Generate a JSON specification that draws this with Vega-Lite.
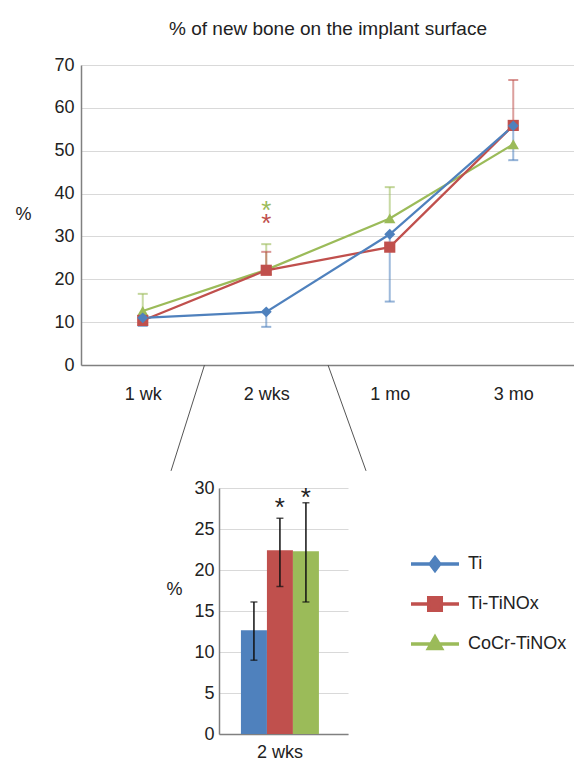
{
  "$schema": "https://vega.github.io/schema/vega-lite/v6.json",
  "background": "white",
  "padding": {"left": 14, "top": 20, "right": 0, "bottom": 0},
  "config": {
    "font": "Liberation Sans",
    "view": {"stroke": null},
    "axis": {
      "labelFont": "Liberation Sans", "labelFontSize": 18, "labelColor": "#222222",
      "titleFont": "Liberation Sans", "titleFontSize": 18, "titleFontWeight": "normal", "titleColor": "#222222",
      "ticks": false, "domainColor": "#808080", "domainWidth": 1.5,
      "gridColor": "#d9d9d9", "gridWidth": 1.2
    },
    "legend": {"labelFont": "Liberation Sans"}
  },
  "datasets": {
    "series": [
      {"series": "CoCr-TiNOx", "t": 1, "value": 12.6, "err": 16.6},
      {"series": "CoCr-TiNOx", "t": 2, "value": 22.2, "err": 28.2},
      {"series": "CoCr-TiNOx", "t": 3, "value": 34.2, "err": 41.5},
      {"series": "CoCr-TiNOx", "t": 4, "value": 51.5, "err": null},
      {"series": "Ti-TiNOx", "t": 1, "value": 10.4, "err": null},
      {"series": "Ti-TiNOx", "t": 2, "value": 22.1, "err": 26.4},
      {"series": "Ti-TiNOx", "t": 3, "value": 27.5, "err": null},
      {"series": "Ti-TiNOx", "t": 4, "value": 55.9, "err": 66.5},
      {"series": "Ti", "t": 1, "value": 11.0, "err": 9.1},
      {"series": "Ti", "t": 2, "value": 12.4, "err": 8.9},
      {"series": "Ti", "t": 3, "value": 30.5, "err": 14.8},
      {"series": "Ti", "t": 4, "value": 55.8, "err": 47.8}
    ],
    "stars": [
      {"series": "CoCr-TiNOx", "t": 2, "star": 36.9},
      {"series": "Ti-TiNOx", "t": 2, "star": 33.8}
    ],
    "zoom": [
      {"zx": 1.5, "zy": 0, "zx2": 1.229, "zy2": -24.7},
      {"zx": 2.5, "zy": 0, "zx2": 2.808, "zy2": -24.7}
    ],
    "bars": [
      {"period": "2 wks", "series": "Ti", "mean": 12.65, "lo": 9.0, "hi": 16.1, "star": null},
      {"period": "2 wks", "series": "Ti-TiNOx", "mean": 22.4, "lo": 18.0, "hi": 26.3, "star": 28.4},
      {"period": "2 wks", "series": "CoCr-TiNOx", "mean": 22.3, "lo": 16.1, "hi": 28.2, "star": 29.6}
    ]
  },
  "bounds": "flush",
  "spacing": 123,
  "resolve": {"legend": {"color": "independent"}},
  "vconcat": [
    {
      "width": 494,
      "height": 300,
      "title": {"text": "% of new bone on the implant surface", "fontSize": 19, "fontWeight": "normal", "font": "Liberation Sans", "color": "#222222", "offset": 17, "anchor": "middle"},
      "data": {"name": "series"},
      "layer": [
        {
          "mark": {"type": "line", "strokeWidth": 2.25},
          "encoding": {
            "x": {"field": "t", "type": "quantitative", "scale": {"domain": [0.5, 4.5]},
                  "axis": {"values": [1, 2, 3, 4], "labelExpr": "datum.value == 1 ? '1 wk' : datum.value == 2 ? '2 wks' : datum.value == 3 ? '1 mo' : '3 mo'", "grid": false, "title": null, "labelPadding": 20, "labelFlush": false, "labelOverlap": false}},
            "y": {"field": "value", "type": "quantitative", "scale": {"domain": [0, 70]},
                  "axis": {"values": [0, 10, 20, 30, 40, 50, 60, 70], "title": "%", "titleAngle": 0, "titleX": -58, "titleY": 149, "titleAlign": "center", "titleBaseline": "middle", "labelPadding": 7, "grid": true}},
            "color": {"field": "series", "type": "nominal", "scale": {"domain": ["Ti", "Ti-TiNOx", "CoCr-TiNOx"], "range": ["#4F81BD", "#C0504D", "#9BBB59"]}, "legend": null}
          }
        },
        {
          "transform": [{"filter": "datum.err != null"}],
          "mark": {"type": "rule", "strokeWidth": 2, "opacity": 0.55},
          "encoding": {
            "x": {"field": "t", "type": "quantitative"},
            "y": {"field": "value", "type": "quantitative"},
            "y2": {"field": "err"},
            "color": {"field": "series", "type": "nominal", "legend": null}
          }
        },
        {
          "transform": [{"filter": "datum.err != null"}],
          "mark": {"type": "tick", "orient": "horizontal", "size": 10, "thickness": 2, "opacity": 0.6},
          "encoding": {
            "x": {"field": "t", "type": "quantitative"},
            "y": {"field": "err", "type": "quantitative"},
            "color": {"field": "series", "type": "nominal", "legend": null}
          }
        },
        {
          "mark": {"type": "point", "filled": true, "opacity": 1},
          "encoding": {
            "x": {"field": "t", "type": "quantitative"},
            "y": {"field": "value", "type": "quantitative"},
            "color": {"field": "series", "type": "nominal", "legend": null},
            "shape": {"field": "series", "type": "nominal", "scale": {"domain": ["Ti", "Ti-TiNOx", "CoCr-TiNOx"], "range": ["diamond", "square", "triangle-up"]}, "legend": null},
            "size": {"field": "series", "type": "nominal", "scale": {"domain": ["Ti", "Ti-TiNOx", "CoCr-TiNOx"], "range": [120, 130, 160]}, "legend": null}
          }
        },
        {
          "data": {"name": "stars"},
          "mark": {"type": "text", "text": "*", "fontSize": 26, "baseline": "alphabetic", "dy": 12, "font": "Liberation Sans"},
          "encoding": {
            "x": {"field": "t", "type": "quantitative"},
            "y": {"field": "star", "type": "quantitative"},
            "color": {"field": "series", "type": "nominal", "legend": null}
          }
        },
        {
          "data": {"name": "zoom"},
          "mark": {"type": "rule", "color": "#555555", "strokeWidth": 1},
          "encoding": {
            "x": {"field": "zx", "type": "quantitative"},
            "y": {"field": "zy", "type": "quantitative"},
            "x2": {"field": "zx2"},
            "y2": {"field": "zy2"}
          }
        }
      ]
    },
    {
      "bounds": "flush",
      "spacing": 137,
      "resolve": {"legend": {"color": "independent"}},
      "hconcat": [
        {
          "width": 1,
          "height": 246,
          "data": {"values": [{}]},
          "mark": {"type": "point", "opacity": 0},
          "encoding": {}
        },
        {
          "width": 129,
          "height": 246,
          "data": {"name": "bars"},
          "layer": [
            {
              "mark": {"type": "bar"},
              "encoding": {
                "x": {"field": "period", "type": "nominal", "scale": {"paddingInner": 0, "paddingOuter": 0.327, "align": 0.43}, "axis": {"title": null, "labelAngle": 0, "labelPadding": 9}},
                "xOffset": {"field": "series", "type": "nominal", "sort": ["Ti", "Ti-TiNOx", "CoCr-TiNOx"], "scale": {"paddingInner": 0, "paddingOuter": 0}},
                "y": {"field": "mean", "type": "quantitative", "scale": {"domain": [0, 30]},
                      "axis": {"values": [0, 5, 10, 15, 20, 25, 30], "title": "%", "titleAngle": 0, "titleX": -45, "titleY": 101, "titleAlign": "center", "titleBaseline": "middle", "labelPadding": 5, "grid": true}},
                "color": {"field": "series", "type": "nominal", "scale": {"domain": ["Ti", "Ti-TiNOx", "CoCr-TiNOx"], "range": ["#4F81BD", "#C0504D", "#9BBB59"]},
                  "legend": {
                    "orient": "none", "legendX": 195, "legendY": 55, "title": null, "padding": 0,
                    "labelFontSize": 18, "labelColor": "#222222", "labelOffset": 12, "rowPadding": 5,
                    "symbolSize": 1444, "symbolStrokeWidth": 3.5,
                    "encode": {
                      "symbols": {
                        "update": {
                          "shape": {"signal": "datum.value == 'Ti' ? 'M-1.263,0H1.263M0,-0.33L0.25,0L0,0.33L-0.25,0Z' : datum.value == 'Ti-TiNOx' ? 'M-1.263,0H1.263M-0.33,-0.33H0.33V0.33H-0.33Z' : 'M-1.263,0H1.263M0,-0.36L0.34,0.24H-0.34Z'"},
                          "fill": {"scale": "color", "field": "value"},
                          "stroke": {"scale": "color", "field": "value"},
                          "strokeWidth": {"value": 3.5},
                          "opacity": {"value": 1}
                        }
                      }
                    }
                  }
                }
              }
            },
            {
              "mark": {"type": "rule", "color": "#111111", "strokeWidth": 1.5},
              "encoding": {
                "x": {"field": "period", "type": "nominal"},
                "xOffset": {"field": "series", "type": "nominal", "sort": ["Ti", "Ti-TiNOx", "CoCr-TiNOx"]},
                "y": {"field": "lo", "type": "quantitative"},
                "y2": {"field": "hi"}
              }
            },
            {
              "mark": {"type": "tick", "orient": "horizontal", "size": 7, "thickness": 1.5, "color": "#111111"},
              "encoding": {
                "x": {"field": "period", "type": "nominal"},
                "xOffset": {"field": "series", "type": "nominal", "sort": ["Ti", "Ti-TiNOx", "CoCr-TiNOx"]},
                "y": {"field": "lo", "type": "quantitative"}
              }
            },
            {
              "mark": {"type": "tick", "orient": "horizontal", "size": 7, "thickness": 1.5, "color": "#111111"},
              "encoding": {
                "x": {"field": "period", "type": "nominal"},
                "xOffset": {"field": "series", "type": "nominal", "sort": ["Ti", "Ti-TiNOx", "CoCr-TiNOx"]},
                "y": {"field": "hi", "type": "quantitative"}
              }
            },
            {
              "transform": [{"filter": "datum.star != null"}],
              "mark": {"type": "text", "text": "*", "fontSize": 26, "baseline": "alphabetic", "dy": 15, "color": "#222222", "font": "Liberation Sans"},
              "encoding": {
                "x": {"field": "period", "type": "nominal"},
                "xOffset": {"field": "series", "type": "nominal", "sort": ["Ti", "Ti-TiNOx", "CoCr-TiNOx"]},
                "y": {"field": "star", "type": "quantitative"}
              }
            }
          ]
        }
      ]
    }
  ]
}
